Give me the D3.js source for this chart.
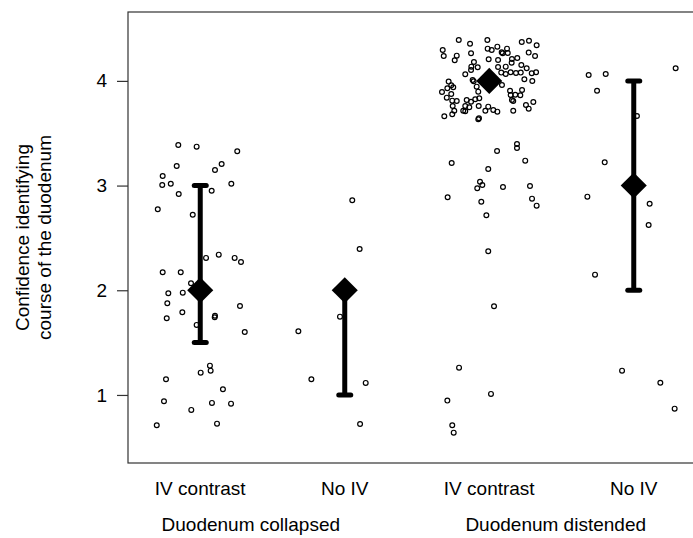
<!DOCTYPE html>
<html>
<head>
<meta charset="utf-8">
<script src="https://cdn.jsdelivr.net/npm/d3@7"></script>
<style>
  html, body { margin: 0; padding: 0; background: #fff; }
  svg { display: block; }
  text { font-family: "Liberation Sans", Arial, sans-serif; fill: #000; }
</style>
</head>
<body>
<svg id="chart" width="693" height="538"></svg>
<script>
// ---- Data ----
const categories = ["IV contrast", "No IV", "IV contrast", "No IV"];
const panelLabels = ["Duodenum collapsed", "Duodenum distended"];
const panelCenters = [1.35, 3.46]; // positions on the category axis
const means = [2, 2, 4, 3];
const lowerCI = [1.5, 1, 4, 2];
const upperCI = [3, 2, 4, 4];
const yTicks = [1, 2, 3, 4];
const yTitle = ["Confidence identifying", "course of the duodenum"];

// jittered responses: [horizontal jitter (category units), value]
const collapsedIV = [
  [-0.152,3.388],[-0.025,3.372],[0.256,3.328],[-0.163,3.187],[0.148,3.206],[0.102,3.149],
  [-0.260,3.092],[-0.263,3.006],[-0.204,3.018],[0.215,3.018],[-0.149,2.920],[0.079,2.951],
  [-0.294,2.774],[-0.052,2.722],[0.040,2.309],[0.128,2.340],[0.238,2.309],[0.282,2.270],
  [-0.260,2.172],[-0.135,2.172],[-0.064,2.067],[-0.221,1.971],[-0.121,1.977],[-0.228,1.876],
  [-0.124,1.790],[-0.232,1.733],[0.102,1.757],[0.100,1.742],[0.275,1.850],[-0.025,1.669],
  [0.308,1.602],[0.067,1.280],[0.003,1.213],[0.072,1.232],[-0.237,1.150],[0.157,1.054],
  [-0.251,0.940],[0.081,0.924],[0.213,0.917],[-0.062,0.857],[-0.301,0.711],[0.116,0.726]
];
const collapsedNoIV = [
  [0.052,2.860],[0.103,2.394],[-0.033,1.748],[-0.321,1.608],[-0.231,1.150],[0.145,1.115],[0.106,0.723]
];
const distendedIV = [
  [0.192,3.397],[0.192,3.359],[0.054,3.330],[0.249,3.238],[-0.260,3.216],[-0.007,3.159],
  [-0.064,3.037],[-0.048,3.006],[-0.083,2.974],[0.095,2.987],[0.282,2.996],[-0.288,2.888],
  [-0.055,2.846],[0.296,2.875],[0.328,2.808],[-0.020,2.716],[-0.007,2.372],[0.033,1.847],
  [-0.209,1.261],[0.012,1.010],[-0.290,0.946],[-0.256,0.711],[-0.246,0.640],
  [-0.211,4.391],[-0.133,4.355],[-0.013,4.391],[0.225,4.372],[0.275,4.384],[0.328,4.340],
  [-0.322,4.295],[-0.315,4.238],[-0.126,4.264],[-0.011,4.308],[0.017,4.295],[0.056,4.327],
  [0.086,4.273],[0.123,4.308],[0.128,4.267],[0.093,4.264],[-0.225,4.241],[-0.239,4.197],
  [-0.106,4.181],[-0.004,4.206],[0.061,4.200],[0.157,4.209],[0.194,4.219],[0.155,4.174],
  [0.273,4.270],[0.317,4.238],[-0.124,4.136],[-0.080,4.130],[-0.126,4.104],[0.061,4.133],
  [0.114,4.136],[0.222,4.152],[0.259,4.120],[-0.166,4.063],[0.083,4.079],[0.114,4.066],
  [0.148,4.082],[0.185,4.075],[0.218,4.079],[0.243,4.015],[0.294,4.073],[0.324,4.082],
  [0.298,3.999],[-0.115,4.009],[-0.108,3.996],[-0.281,3.993],[-0.263,3.958],[-0.290,3.929],
  [-0.249,3.939],[-0.327,3.894],[-0.263,3.875],[-0.087,3.945],[-0.076,3.897],[0.088,3.961],
  [-0.294,3.840],[-0.256,3.811],[-0.225,3.808],[-0.156,3.818],[-0.126,3.801],[-0.097,3.824],
  [-0.069,3.834],[0.144,3.906],[0.148,3.865],[0.180,3.868],[0.227,3.913],[0.215,3.863],
  [0.157,3.818],[0.166,3.808],[-0.253,3.760],[-0.242,3.715],[-0.166,3.760],[-0.138,3.748],
  [-0.073,3.760],[-0.007,3.754],[0.028,3.722],[0.056,3.706],[0.254,3.770],[0.273,3.735],
  [0.305,3.798],[-0.180,3.715],[-0.166,3.710],[-0.027,3.715],[0.166,3.715],[-0.311,3.662],
  [-0.256,3.681],[-0.071,3.643],[-0.076,3.633]
];
const distendedNoIV = [
  [-0.312,4.056],[-0.194,4.066],[0.290,4.120],[-0.254,3.906],[0.022,3.665],[-0.201,3.222],
  [-0.321,2.894],[0.110,2.827],[0.103,2.624],[-0.268,2.149],[-0.081,1.232],[0.184,1.117],[0.283,0.869]
];
const pointSets = [collapsedIV, collapsedNoIV, distendedIV, distendedNoIV];

// ---- Layout ----
const plot = { left: 128, top: 12, right: 706, bottom: 463 };
const svg = d3.select("#chart");

const x = d3.scaleLinear().domain([0.5, 4.5]).range([plot.left, plot.right]);
const y = d3.scaleLinear().domain([0.35, 4.658]).range([plot.bottom, plot.top]);

// points
const pts = [];
pointSets.forEach((set, i) => set.forEach(d => pts.push({ g: i + 1, j: d[0], v: d[1] })));
svg.append("g").selectAll("circle").data(pts).join("circle")
  .attr("cx", d => x(d.g + d.j))
  .attr("cy", d => y(d.v))
  .attr("r", 2.4)
  .attr("fill", "none")
  .attr("stroke", "#000")
  .attr("stroke-width", 1.2);

// error bars
const summary = categories.map((c, i) => ({ g: i + 1, m: means[i], lo: lowerCI[i], hi: upperCI[i] }));
const eb = svg.append("g");
summary.filter(d => d.hi > d.lo).forEach(d => {
  eb.append("line")
    .attr("x1", x(d.g)).attr("x2", x(d.g))
    .attr("y1", y(d.lo)).attr("y2", y(d.hi))
    .attr("stroke", "#000").attr("stroke-width", 5);
  [d.lo, d.hi].forEach(v => {
    eb.append("line")
      .attr("x1", x(d.g) - 6).attr("x2", x(d.g) + 6)
      .attr("y1", y(v)).attr("y2", y(v))
      .attr("stroke", "#000").attr("stroke-width", 5)
      .attr("stroke-linecap", "round");
  });
});

// mean diamonds
svg.append("g").selectAll("path").data(summary).join("path")
  .attr("d", d3.symbol(d3.symbolSquare, 340)())
  .attr("transform", d => `translate(${x(d.g)},${y(d.m)}) rotate(45)`)
  .attr("fill", "#000");

// frame
svg.append("rect")
  .attr("x", plot.left).attr("y", plot.top)
  .attr("width", plot.right - plot.left).attr("height", plot.bottom - plot.top)
  .attr("fill", "none").attr("stroke", "#333").attr("stroke-width", 1.2);

// y axis
const yAxis = d3.axisLeft(y).tickValues(yTicks).tickSize(11).tickPadding(10).tickFormat(d3.format("d"));
const ya = svg.append("g").attr("transform", `translate(${plot.left},0)`).call(yAxis);
ya.select(".domain").remove();
ya.selectAll(".tick line").attr("stroke", "#333").attr("stroke-width", 1.2);
ya.selectAll(".tick text").style("font-size", "19px").attr("fill", "#000")
  .style("font-family", "'Liberation Sans', Arial, sans-serif");

// y title
const midY = (plot.top + plot.bottom) / 2;
yTitle.forEach((t, i) => {
  svg.append("text")
    .attr("transform", `translate(${29 + i * 22},${midY}) rotate(-90)`)
    .attr("text-anchor", "middle")
    .style("font-size", "19px")
    .text(t);
});

// category labels
svg.append("g").selectAll("text").data(categories).join("text")
  .attr("x", (d, i) => x(i + 1))
  .attr("y", 495)
  .attr("text-anchor", "middle")
  .style("font-size", "19px")
  .text(d => d);

// panel labels
svg.append("g").selectAll("text").data(panelLabels).join("text")
  .attr("x", (d, i) => x(panelCenters[i]))
  .attr("y", 531)
  .attr("text-anchor", "middle")
  .style("font-size", "19px")
  .text(d => d);
</script>
</body>
</html>
